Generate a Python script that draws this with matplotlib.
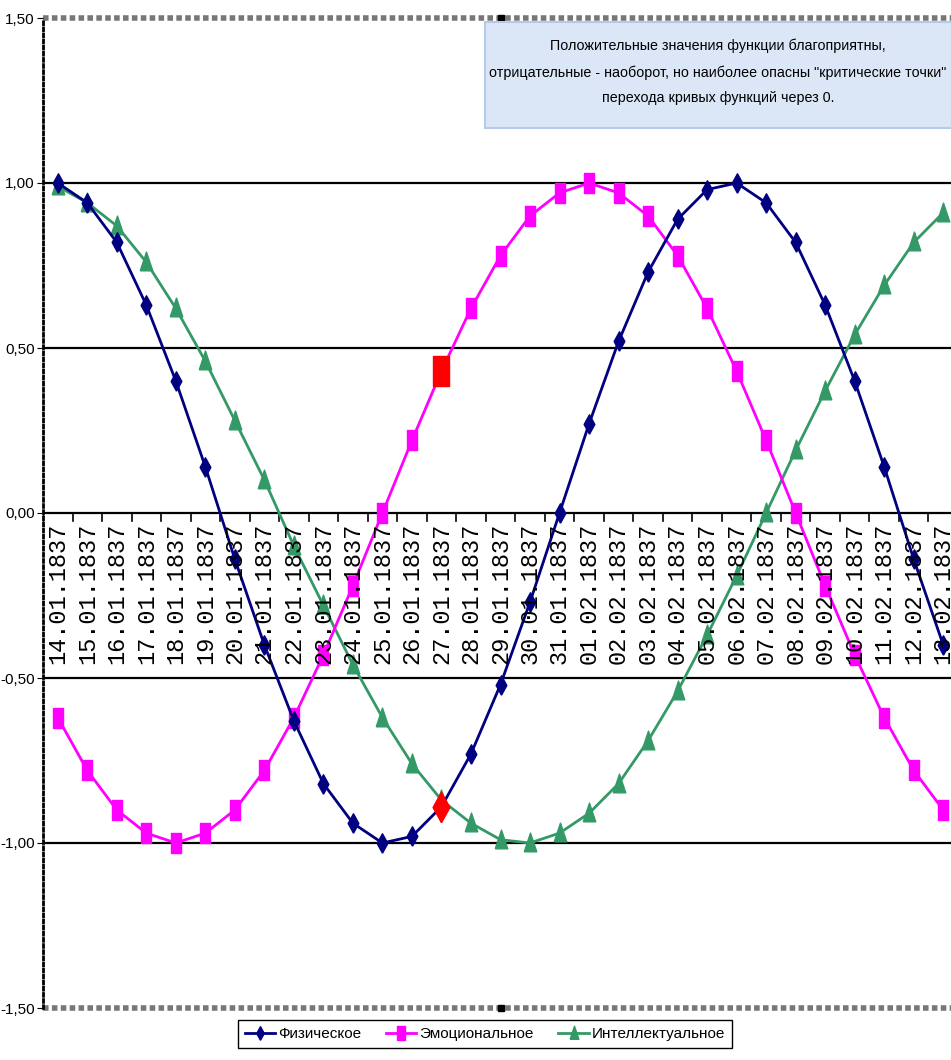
import matplotlib
matplotlib.use("Agg")
import matplotlib.pyplot as plt
from matplotlib.patches import Rectangle

plt.rcParams['font.family'] = ['Liberation Sans', 'DejaVu Sans']

# даты (14.01.1837 - 13.02.1837)
dates = ['14.01.1837', '15.01.1837', '16.01.1837', '17.01.1837', '18.01.1837', '19.01.1837',
         '20.01.1837', '21.01.1837', '22.01.1837', '23.01.1837', '24.01.1837', '25.01.1837',
         '26.01.1837', '27.01.1837', '28.01.1837', '29.01.1837', '30.01.1837', '31.01.1837',
         '01.02.1837', '02.02.1837', '03.02.1837', '04.02.1837', '05.02.1837', '06.02.1837',
         '07.02.1837', '08.02.1837', '09.02.1837', '10.02.1837', '11.02.1837', '12.02.1837',
         '13.02.1837']

physical = [1.00, 0.94, 0.82, 0.63, 0.40, 0.14, -0.14, -0.40, -0.63, -0.82, -0.94, -1.00,
            -0.98, -0.89, -0.73, -0.52, -0.27, 0.00, 0.27, 0.52, 0.73, 0.89, 0.98, 1.00,
            0.94, 0.82, 0.63, 0.40, 0.14, -0.14, -0.40]
emotional = [-0.62, -0.78, -0.90, -0.97, -1.00, -0.97, -0.90, -0.78, -0.62, -0.43, -0.22, 0.00,
             0.22, 0.43, 0.62, 0.78, 0.90, 0.97, 1.00, 0.97, 0.90, 0.78, 0.62, 0.43,
             0.22, 0.00, -0.22, -0.43, -0.62, -0.78, -0.90]
intellect = [0.99, 0.94, 0.87, 0.76, 0.62, 0.46, 0.28, 0.10, -0.10, -0.28, -0.46, -0.62,
             -0.76, -0.87, -0.94, -0.99, -1.00, -0.97, -0.91, -0.82, -0.69, -0.54, -0.37, -0.19,
             0.00, 0.19, 0.37, 0.54, 0.69, 0.82, 0.91]
red_idx = 13  # 27.01.1837
yticks = [1.5, 1.0, 0.5, 0.0, -0.5, -1.0, -1.5]
ylabels = ['1,50', '1,00', '0,50', '0,00', '-0,50', '-1,00', '-1,50']
legend_names = ['Физическое', 'Эмоциональное', 'Интеллектуальное']
note = ('Положительные значения функции благоприятны,\n'
        'отрицательные - наоборот, но наиболее опасны "критические точки"\n'
        'перехода кривых функций через 0.')

c_phys, c_emo, c_int = '#000080', '#ff00ff', '#339966'
m_square = [(-0.55, -1), (0.55, -1), (0.55, 1), (-0.55, 1), (-0.55, -1)]
m_diam = [(0, -1), (0.55, 0), (0, 1), (-0.55, 0), (0, -1)]
m_tri = [(-0.6, -0.8), (0.6, -0.8), (0, 1), (-0.6, -0.8)]

fig = plt.figure(figsize=(9.51, 10.6), dpi=100)
ax = fig.add_axes([43 / 951, 1 - 1008 / 1060, 915 / 951, 990 / 1060])
x = list(range(len(dates)))

for yv in [1.0, 0.5, 0.0, -0.5, -1.0]:
    ax.axhline(yv, color='black', lw=1.6, zorder=1)

ax.plot(x, physical, color=c_phys, lw=2, marker=m_diam, ms=14, zorder=4, label=legend_names[0])
ax.plot(x, emotional, color=c_emo, lw=2, marker=m_square, ms=14, zorder=3, label=legend_names[1])
ax.plot(x, intellect, color=c_int, lw=2, marker=m_tri, ms=15, zorder=2, label=legend_names[2])
ax.plot([red_idx], [emotional[red_idx]], ls='none', marker=m_square, ms=22, color='red', zorder=5)
ax.plot([red_idx], [physical[red_idx]], ls='none', marker=m_diam, ms=22, color='red', zorder=5)

ax.set_xlim(-0.5, len(dates) - 0.5)
ax.set_ylim(-1.5, 1.5)
ax.set_yticks(yticks)
ax.set_yticklabels(ylabels, fontsize=11)
ax.tick_params(axis='y', length=4, pad=2)
ax.set_xticks([])
for s in ['top', 'bottom', 'right']:
    ax.spines[s].set_visible(False)
ax.spines['left'].set_linestyle((0, (1, 1.2)))
ax.spines['left'].set_linewidth(2.0)

# рамка выделения сверху и снизу
for yv in [1.5, -1.5]:
    ax.axhline(yv, color='#777777', lw=4, ls=(0, (1, 0.6)), zorder=1, clip_on=False)
    ax.plot([15], [yv], marker='s', ms=5, color='black', clip_on=False, zorder=6)

# ось категорий по нулю: засечки и подписи внутри области
for i in range(len(dates) + 1):
    ax.plot([i - 0.5, i - 0.5], [0, -0.025], color='black', lw=1.2, zorder=1)
for i, d in enumerate(dates):
    ax.text(i, -0.03, d, rotation=90, ha='center', va='top', fontsize=17,
            family=['Liberation Mono'], color='black', zorder=6)

# поясняющая надпись
fig.patches.append(Rectangle((485 / 951, 1 - 128 / 1060), 480 / 951, 106 / 1060,
                             transform=fig.transFigure, facecolor='#dbe7f7',
                             edgecolor='#b5cbe8', lw=1.5, zorder=0))
fig.text(718 / 951, 1 - 72 / 1060, note, ha='center', va='center', fontsize=10.3,
         linespacing=2.05)

fig.legend(loc='center', bbox_to_anchor=(485 / 951, 1 - 1034 / 1060), ncol=3,
           fontsize=11, frameon=True, fancybox=False, edgecolor='black',
           framealpha=1, handlelength=2.0, handletextpad=0.2, columnspacing=1.6,
           borderpad=0.45, markerscale=0.7)

fig.savefig('out.png', dpi=100)
